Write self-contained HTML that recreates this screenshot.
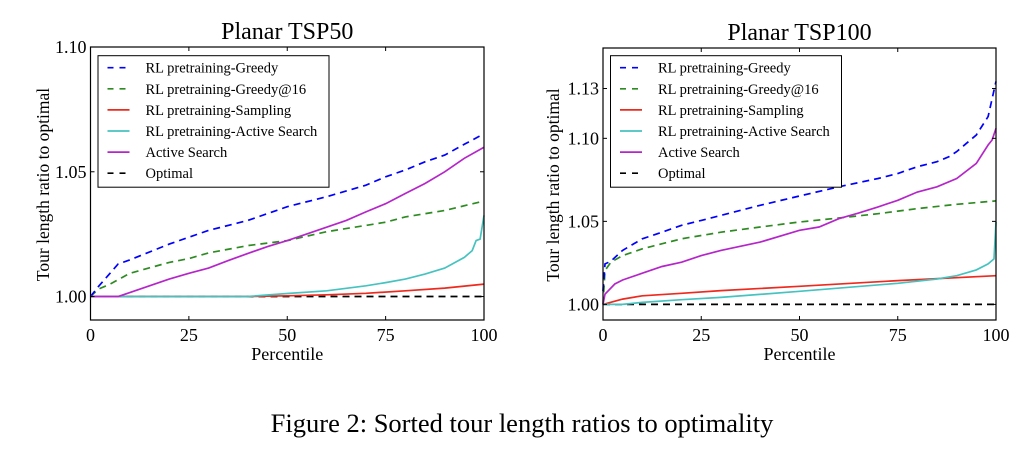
<!DOCTYPE html>
<html><head><meta charset="utf-8"><style>
body{margin:0;background:#fff;width:1034px;height:456px;overflow:hidden}
svg{display:block;font-family:"Liberation Serif",serif}
</style></head><body>
<svg id="fig" width="1034" height="456" viewBox="0 0 1034 456" xmlns="http://www.w3.org/2000/svg">
<text x="522" y="432" font-size="26.5" text-anchor="middle">Figure 2: Sorted tour length ratios to optimality</text>
</svg>
<script>
const seriesNames = ["RL pretraining-Greedy","RL pretraining-Greedy@16","RL pretraining-Sampling","RL pretraining-Active Search","Active Search","Optimal"];
const xTicks = [0,25,50,75,100];
// TSP50
const t50GreedyX = [0,2,7,10,20,25,30,40,50,60,70,75,80,85,90,95,100];
const t50GreedyY = [1.0,1.004,1.013,1.0147,1.021,1.0238,1.0265,1.0305,1.036,1.040,1.0446,1.048,1.0507,1.054,1.0567,1.061,1.0652];
const t50G16X = [0,2,5,10,20,25,30,40,50,60,70,75,80,90,100];
const t50G16Y = [1.0,1.003,1.005,1.0093,1.0137,1.0152,1.0175,1.0204,1.0224,1.026,1.0285,1.0298,1.0319,1.0345,1.0383];
const t50SampX = [0,40,50,60,70,80,90,100];
const t50SampY = [1.0,1.0,1.0003,1.0007,1.0013,1.0023,1.0034,1.005];
const t50RLASX = [0,40,50,60,70,75,80,85,90,95,97,98,99,100];
const t50RLASY = [1.0,1.0,1.0012,1.0023,1.0043,1.0056,1.007,1.009,1.0114,1.0157,1.0184,1.0224,1.023,1.0325];
const t50ASX = [0,7,10,15,20,25,30,35,40,45,50,55,60,65,70,75,80,85,90,95,100];
const t50ASY = [1.0,1.0,1.0016,1.0043,1.007,1.0093,1.0114,1.0144,1.0173,1.020,1.0224,1.0251,1.0278,1.0305,1.0339,1.0372,1.0413,1.0453,1.05,1.0554,1.0598];
const t50YTicks = [1.00,1.05,1.10];
// TSP100
const t100GreedyX = [0,0.5,2,5,10,15,20,25,30,40,50,60,70,75,80,85,88,90,95,98,100];
const t100GreedyY = [1.008,1.0244,1.026,1.0325,1.0395,1.0435,1.0476,1.0506,1.0536,1.0597,1.0653,1.0708,1.0758,1.0788,1.0829,1.0859,1.0889,1.092,1.102,1.1131,1.1343];
const t100G16X = [0,0.5,2,5,10,20,25,30,40,50,60,70,80,90,100];
const t100G16Y = [1.0,1.0204,1.0254,1.0294,1.0335,1.0395,1.0415,1.0435,1.0466,1.0496,1.052,1.0546,1.0577,1.0603,1.0623];
const t100SampX = [0,5,10,20,30,50,75,100];
const t100SampY = [1.0,1.0032,1.0052,1.0067,1.0083,1.0109,1.0143,1.0173];
const t100RLASX = [0,5,10,20,30,50,75,85,90,95,98,99.5,100];
const t100RLASY = [1.0,1.0,1.0012,1.0028,1.0042,1.0079,1.0127,1.0153,1.0173,1.0208,1.0244,1.0274,1.0496];
const t100ASX = [0,0.5,3,5,10,15,20,25,30,40,50,55,60,65,70,75,80,85,90,95,98,99,100];
const t100ASY = [1.0,1.0062,1.0123,1.0147,1.0188,1.0228,1.0254,1.0294,1.0325,1.0375,1.0446,1.0466,1.0516,1.055,1.0587,1.0627,1.0677,1.0708,1.0758,1.0849,1.096,1.099,1.106];
const t100YTicks = [1.00,1.05,1.10,1.13];

const NS="http://www.w3.org/2000/svg";
const svg=document.getElementById('fig');
function mk(tag,attrs,parent){const e=document.createElementNS(NS,tag);for(const k in attrs)e.setAttribute(k,attrs[k]);(parent||svg).appendChild(e);return e;}
const styles=[{c:"#0000ff",d:"7,5"},{c:"#2e8b22",d:"7,5"},{c:"#ee2a1e",d:""},{c:"#46c3c0",d:""},{c:"#b526c9",d:""},{c:"#000",d:"7,5"}];

function chart(o){
  const g=mk('g',{});
  
  
  const L=o.x0,R=o.x1,T=o.y0,B=o.y1;
  const sx=v=>L+(v-0)/100*(R-L);
  const sy=v=>B-(v-o.ymin)/(o.ymax-o.ymin)*(B-T);
  const title=mk('text',{x:(L+R)/2,y:T-8,'font-size':24,'text-anchor':'middle'},g);
  title.textContent=o.title;
  
  
  const sets=[[o.gx,o.gy],[o.g16x,o.g16y],[o.sx,o.sy],[o.rx,o.ry],[o.ax,o.ay],[[0,100],[1,1]]];
  const order=[5,2,3,1,0,4];
  order.forEach(i=>{
    const [xs,ys]=sets[i];
    const d=xs.map((x,j)=>(j?'L':'M')+sx(x).toFixed(1)+','+sy(ys[j]).toFixed(1)).join('');
    const p=mk('path',{d:d,fill:'none',stroke:styles[i].c,'stroke-width':1.7,'stroke-dasharray':styles[i].d},g);
    
    
  });
  const fr=mk('rect',{x:L,y:T,width:R-L,height:B-T,fill:'none',stroke:'#000','stroke-width':1.2},g);
  
  
  xTicks.forEach(t=>{
    const x=sx(t);
    mk('line',{x1:x,x2:x,y1:B,y2:B-4,stroke:'#000'},g);
    mk('line',{x1:x,x2:x,y1:T,y2:T+4,stroke:'#000'},g);
    const tx=mk('text',{x:x,y:B+21,'font-size':18,'text-anchor':'middle'},g);
    tx.textContent=t;
    
    
  });
  o.yt.forEach(t=>{
    const y=sy(t);
    mk('line',{x1:L,x2:L+4,y1:y,y2:y,stroke:'#000'},g);
    mk('line',{x1:R,x2:R-4,y1:y,y2:y,stroke:'#000'},g);
    const ty=mk('text',{x:L-4,y:y+6,'font-size':18,'text-anchor':'end'},g);
    ty.textContent=t.toFixed(2);
    
    
  });
  const xl=mk('text',{x:(L+R)/2,y:B+40,'font-size':18,'text-anchor':'middle'},g);
  xl.textContent='Percentile';
  
  
  const yl=mk('text',{x:0,y:0,'font-size':17.5,'text-anchor':'middle',transform:`translate(${o.ylx},${(T+B)/2+1}) rotate(-90)`},g);
  yl.textContent='Tour length ratio to optimal';
  
  
  const lg=mk('g',{},g);
  
  
  mk('rect',{x:L+7.5,y:55.7,width:231,height:131.5,fill:'#fff',stroke:'#000','stroke-width':1},lg);
  seriesNames.forEach((n,i)=>{
    const y=67.7+i*21.1;
    mk('line',{x1:L+17,x2:L+39,y1:y,y2:y,stroke:styles[i].c,'stroke-width':1.7,'stroke-dasharray':styles[i].d?'6,6':''},lg);
    const t=mk('text',{x:L+55,y:y+5,'font-size':14.5},lg);
    t.textContent=n;
    
    
  });
}
chart({name:'tsp50-chart',title:'Planar TSP50',x0:90.5,x1:484,y0:47,y1:320,ymin:0.9906,ymax:1.1,yt:t50YTicks,ylx:49,
 gx:t50GreedyX,gy:t50GreedyY,g16x:t50G16X,g16y:t50G16Y,sx:t50SampX,sy:t50SampY,rx:t50RLASX,ry:t50RLASY,ax:t50ASX,ay:t50ASY});
chart({name:'tsp100-chart',title:'Planar TSP100',x0:603,x1:996,y0:48,y1:320,ymin:0.9906,ymax:1.1544,yt:t100YTicks,ylx:559,
 gx:t100GreedyX,gy:t100GreedyY,g16x:t100G16X,g16y:t100G16Y,sx:t100SampX,sy:t100SampY,rx:t100RLASX,ry:t100RLASY,ax:t100ASX,ay:t100ASY});
</script>
</body></html>
